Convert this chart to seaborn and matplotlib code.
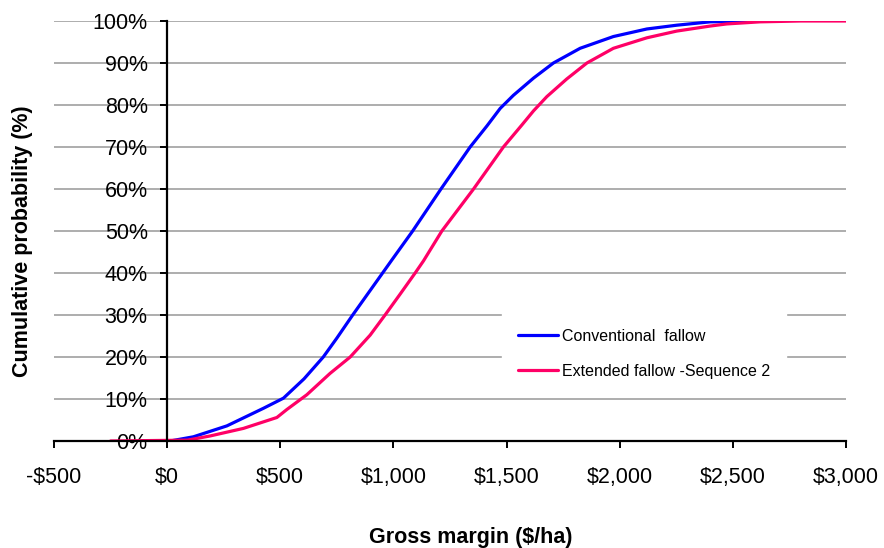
import matplotlib
matplotlib.use("Agg")
import matplotlib.pyplot as plt
import seaborn as sns
import pandas as pd
from matplotlib.ticker import PercentFormatter, FuncFormatter

# Curvas de probabilidad acumulada
conv_margin = [13, 116, 264, 426, 514, 605, 690, 750, 820, 927, 993, 1085, 1210,
               1339, 1413, 1472, 1530, 1619, 1707, 1825, 1972, 2120, 2252, 2400, 2650]
conv_prob = [0.0, 0.010, 0.036, 0.078, 0.102, 0.148, 0.200, 0.245, 0.300, 0.381,
             0.431, 0.500, 0.600, 0.700, 0.750, 0.792, 0.823, 0.864, 0.900, 0.935,
             0.963, 0.981, 0.990, 0.998, 1.0]

ext_margin = [-250, 90, 190, 337, 485, 529, 617, 720, 809, 897, 963, 1030, 1096,
              1133, 1214, 1354, 1486, 1567, 1619, 1678, 1766, 1855, 1972, 2120,
              2252, 2400, 2473, 2620, 2800, 3000]
ext_prob = [0.0, 0.002, 0.012, 0.030, 0.056, 0.075, 0.110, 0.161, 0.200, 0.252,
            0.300, 0.350, 0.400, 0.429, 0.500, 0.600, 0.700, 0.752, 0.786, 0.820,
            0.862, 0.900, 0.935, 0.960, 0.976, 0.988, 0.993, 0.998, 1.0, 1.0]

series_names = ["Conventional  fallow", "Extended fallow -Sequence 2"]
colors = ["#0000FF", "#FF0066"]

df = pd.concat([
    pd.DataFrame({"margin": conv_margin, "prob": conv_prob, "serie": series_names[0]}),
    pd.DataFrame({"margin": ext_margin, "prob": ext_prob, "serie": series_names[1]}),
])

sns.set_style("white")
plt.rcParams['font.family'] = ['Liberation Sans', 'DejaVu Sans']
plt.rcParams['text.color'] = 'black'
plt.rcParams['axes.labelcolor'] = 'black'
plt.rcParams['xtick.color'] = 'black'
plt.rcParams['ytick.color'] = 'black'

fig = plt.figure(figsize=(8.84, 5.48), dpi=100)
ax = fig.add_axes([54 / 884, 1 - 441 / 548, 792 / 884, 420 / 548])

sns.lineplot(data=df, x="margin", y="prob", hue="serie", hue_order=series_names,
             palette=colors, estimator=None, sort=False, linewidth=2.3, ax=ax)

ax.set_xlim(-500, 3000)
ax.set_ylim(0, 1)
ax.set_xticks(range(-500, 3001, 500))
ax.set_yticks([i / 10 for i in range(11)])
ax.yaxis.set_major_formatter(PercentFormatter(1.0, decimals=0))
ax.xaxis.set_major_formatter(FuncFormatter(
    lambda v, p: f"-${abs(v):,.0f}" if v < 0 else f"${v:,.0f}"))

# Ejes estilo Excel: eje Y en x=0
ax.spines['left'].set_position(('data', 0))
ax.spines['top'].set_visible(False)
ax.spines['right'].set_visible(False)
for s in ['left', 'bottom']:
    ax.spines[s].set_color('black')
    ax.spines[s].set_linewidth(1.6)
    ax.spines[s].set_zorder(5)

ax.yaxis.grid(True, color='#A0A0A0', linewidth=1.2)
ax.set_axisbelow(True)
ax.tick_params(axis='both', which='both', direction='out', length=5, width=1.4,
               color='black', labelcolor='black', labelsize=15.5, left=True, bottom=True)
ax.tick_params(axis='y', pad=9)
ax.tick_params(axis='x', pad=14)

ax.set_xlabel("Gross margin ($/ha)", fontsize=15.5, fontweight='bold', color='black')
ax.set_ylabel("Cumulative probability (%)", fontsize=15.5, fontweight='bold', color='black')
ax.xaxis.set_label_coords(0.5265, -0.205)
ax.yaxis.set_label_coords(-0.027, 0.476)

handles, labels = ax.get_legend_handles_labels()
leg = ax.legend(handles, labels, loc='center', bbox_to_anchor=(0.745, 0.207),
                fontsize=11.5, frameon=True, facecolor='white', edgecolor='white',
                framealpha=1, fancybox=False, handlelength=2.5, handletextpad=0.3,
                borderpad=1.0, labelspacing=1.25, title=None)
for line in leg.get_lines():
    line.set_linewidth(2.3)
for t in leg.get_texts():
    t.set_color('black')

fig.savefig("out.png", dpi=100)
